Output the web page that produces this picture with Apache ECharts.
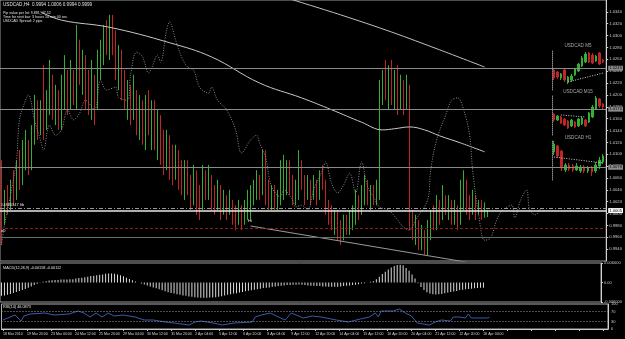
<!DOCTYPE html>
<html><head><meta charset="utf-8">
<script src="https://cdn.jsdelivr.net/npm/echarts/dist/echarts.min.js"></script>
<style>html,body{margin:0;padding:0;background:#000}#c{width:625px;height:339px}</style>
</head><body><div id="c"></div>
<script>
const categories = Array.from({length: 202}, (_, i) => i);
const tickLabels = ["18 Mar 2010","19 Mar 20:00","23 Mar 04:00","24 Mar 12:00","25 Mar 20:00","29 Mar 04:00","30 Mar 12:00","31 Mar 20:00","2 Apr 04:00","5 Apr 12:00","6 Apr 20:00","8 Apr 04:00","9 Apr 12:00","12 Apr 20:00","14 Apr 04:00","15 Apr 12:00","16 Apr 20:00","20 Apr 04:00","21 Apr 12:00","22 Apr 20:00","26 Apr 04:00"];

// [open, close, low, high]
const priceBars = [
[1.0065,0.9998,0.9947,1.0090],[0.9998,1.0023,0.9981,1.0040],[1.0023,1.0014,0.9998,1.0048],[1.0014,1.0048,1.0006,1.0057],[1.0048,1.0031,1.0014,1.0073],
[1.0031,1.0073,1.0023,1.0090],[1.0073,1.0057,1.0040,1.0107],[1.0057,1.0090,1.0048,1.0124],[1.0090,1.0107,1.0073,1.0141],[1.0107,1.0082,1.0065,1.0124],
[1.0082,1.0132,1.0073,1.0149],[1.0132,1.0158,1.0116,1.0200],[1.0158,1.0141,1.0124,1.0191],[1.0141,1.0175,1.0132,1.0191],[1.0175,1.0149,1.0124,1.0250],
[1.0149,1.0183,1.0141,1.0208],[1.0183,1.0200,1.0166,1.0259],[1.0200,1.0175,1.0158,1.0234],[1.0175,1.0191,1.0149,1.0217],[1.0191,1.0158,1.0141,1.0208],
[1.0158,1.0200,1.0141,1.0234],[1.0200,1.0217,1.0175,1.0267],[1.0217,1.0191,1.0166,1.0242],[1.0191,1.0225,1.0175,1.0259],[1.0225,1.0208,1.0183,1.0242],
[1.0208,1.0284,1.0175,1.0318],[1.0284,1.0242,1.0217,1.0293],[1.0242,1.0259,1.0200,1.0276],[1.0259,1.0225,1.0175,1.0267],[1.0225,1.0200,1.0166,1.0242],
[1.0200,1.0217,1.0158,1.0259],[1.0217,1.0191,1.0149,1.0234],[1.0191,1.0242,1.0175,1.0276],[1.0242,1.0276,1.0225,1.0293],[1.0276,1.0301,1.0250,1.0318],
[1.0301,1.0284,1.0267,1.0326],[1.0284,1.0318,1.0259,1.0335],[1.0318,1.0293,1.0267,1.0335],[1.0293,1.0250,1.0225,1.0309],[1.0250,1.0267,1.0208,1.0284],
[1.0267,1.0217,1.0191,1.0276],[1.0217,1.0191,1.0175,1.0242],[1.0191,1.0208,1.0158,1.0225],[1.0208,1.0175,1.0149,1.0217],[1.0175,1.0200,1.0158,1.0234],
[1.0200,1.0158,1.0132,1.0208],[1.0158,1.0183,1.0124,1.0200],[1.0183,1.0141,1.0116,1.0191],[1.0141,1.0175,1.0107,1.0200],[1.0175,1.0158,1.0132,1.0208],
[1.0158,1.0183,1.0107,1.0191],[1.0183,1.0132,1.0107,1.0191],[1.0132,1.0149,1.0090,1.0175],[1.0149,1.0116,1.0082,1.0166],[1.0116,1.0099,1.0065,1.0141],
[1.0099,1.0124,1.0073,1.0141],[1.0124,1.0090,1.0057,1.0132],[1.0090,1.0073,1.0048,1.0116],[1.0073,1.0099,1.0057,1.0116],[1.0099,1.0065,1.0040,1.0107],
[1.0065,1.0048,1.0031,1.0090],[1.0048,1.0073,1.0023,1.0090],[1.0073,1.0048,1.0031,1.0090],[1.0048,1.0031,1.0006,1.0065],[1.0031,1.0057,1.0014,1.0082],
[1.0057,1.0023,0.9998,1.0073],[1.0023,1.0014,0.9989,1.0048],[1.0014,1.0048,1.0006,1.0082],[1.0048,1.0040,1.0023,1.0073],[1.0040,1.0057,1.0023,1.0082],
[1.0057,1.0031,1.0006,1.0065],[1.0031,1.0023,0.9998,1.0048],[1.0023,1.0040,1.0006,1.0057],[1.0040,1.0014,0.9989,1.0048],[1.0014,1.0023,0.9998,1.0040],
[1.0023,1.0006,0.9989,1.0031],[1.0006,1.0014,0.9998,1.0040],[1.0014,0.9998,0.9981,1.0023],[0.9998,0.9989,0.9972,1.0014],[0.9989,1.0006,0.9981,1.0023],
[1.0006,0.9989,0.9972,1.0014],[0.9989,0.9998,0.9981,1.0023],[0.9998,1.0014,0.9989,1.0040],[1.0014,1.0023,0.9989,1.0048],[1.0023,1.0031,1.0014,1.0057],
[1.0031,1.0048,1.0023,1.0073],[1.0048,1.0040,1.0023,1.0065],[1.0040,1.0082,1.0031,1.0107],[1.0082,1.0040,1.0014,1.0107],[1.0040,1.0023,1.0006,1.0057],
[1.0023,1.0031,1.0006,1.0048],[1.0031,1.0014,1.0006,1.0048],[1.0014,1.0023,1.0006,1.0040],[1.0023,1.0065,1.0014,1.0090],[1.0065,1.0073,1.0023,1.0099],
[1.0073,1.0082,1.0031,1.0090],[1.0082,1.0048,1.0031,1.0090],[1.0048,1.0031,1.0014,1.0065],[1.0031,1.0040,1.0014,1.0057],[1.0040,1.0082,1.0023,1.0107],
[1.0082,1.0057,1.0040,1.0090],[1.0057,1.0031,1.0014,1.0065],[1.0031,1.0048,1.0023,1.0065],[1.0048,1.0031,1.0014,1.0057],[1.0031,1.0048,1.0023,1.0065],
[1.0048,1.0031,1.0014,1.0057],[1.0031,1.0065,1.0023,1.0073],[1.0065,1.0048,1.0040,1.0082],[1.0048,1.0014,0.9998,1.0057],[1.0014,0.9998,0.9981,1.0023],
[0.9998,0.9981,0.9972,1.0014],[0.9981,0.9998,0.9964,1.0006],[0.9998,0.9972,0.9955,1.0006],[0.9972,0.9964,0.9947,0.9989],[0.9964,0.9981,0.9955,0.9998],
[0.9981,0.9972,0.9964,0.9998],[0.9972,0.9989,0.9964,1.0006],[0.9989,0.9998,0.9972,1.0014],[0.9998,1.0023,0.9981,1.0040],[1.0023,1.0006,0.9989,1.0031],
[1.0006,1.0031,0.9998,1.0048],[1.0031,1.0040,1.0014,1.0065],[1.0040,1.0023,1.0014,1.0057],[1.0023,1.0031,1.0006,1.0048],[1.0031,1.0023,1.0014,1.0048],
[1.0023,1.0040,1.0014,1.0057],[1.0040,1.0200,1.0023,1.0225],[1.0200,1.0225,1.0183,1.0242],[1.0225,1.0208,1.0191,1.0259],[1.0208,1.0234,1.0175,1.0250],
[1.0234,1.0200,1.0183,1.0259],[1.0200,1.0217,1.0175,1.0242],[1.0217,1.0191,1.0166,1.0250],[1.0191,1.0208,1.0175,1.0234],[1.0208,1.0183,1.0166,1.0225],
[1.0183,1.0200,1.0175,1.0234],[1.0200,0.9998,0.9972,1.0217],[0.9998,0.9972,0.9955,1.0006],[0.9972,0.9981,0.9947,0.9998],[0.9981,0.9955,0.9938,0.9989],
[0.9955,0.9964,0.9938,0.9981],[0.9964,0.9947,0.9930,0.9972],[0.9947,0.9972,0.9930,0.9989],[0.9972,0.9998,0.9955,1.0006],[0.9998,0.9989,0.9972,1.0014],
[0.9989,1.0014,0.9972,1.0031],[1.0014,0.9998,0.9981,1.0023],[0.9998,1.0023,0.9989,1.0048],[1.0023,1.0006,0.9998,1.0031],[1.0006,1.0014,0.9989,1.0031],
[1.0014,0.9998,0.9981,1.0023],[0.9998,1.0006,0.9981,1.0023],[1.0006,0.9989,0.9972,1.0014],[0.9989,1.0023,0.9981,1.0057],[1.0023,1.0048,1.0006,1.0073],
[1.0048,1.0014,0.9998,1.0057],[1.0014,1.0006,0.9989,1.0031],[1.0006,1.0023,0.9998,1.0040],[1.0023,1.0006,0.9989,1.0031],[1.0006,1.0014,0.9998,1.0023],
[1.0014,1.0003,0.9989,1.0023],[1.0003,1.0009,0.9993,1.0019],[0.9994,0.9999,0.9994,1.0006]
];

const maSlow = [[13,1.0340],[20,1.0326],[36,1.0314],[56,1.0288],[70,1.0264],[86,1.0220],[100,1.0195],[110,1.0175],[120,1.0154],[127,1.0141],[131,1.0143],[136,1.0146],[141,1.0141],[146,1.0131],[153,1.0119],[161,1.0104]];
const maSlower = [[94,1.0365],[113,1.0335],[130,1.0306],[146,1.0276],[161,1.0247]];
const trendLine = [[83,0.9979],[155,0.9918]];
const dottedLine = [[0,0.9947],[1,0.9981],[3,1.0031],[5,1.0090],[6,1.0158],[8,1.0191],[9,1.0200],[11,1.0158],[13,1.0124],[14,1.0107],[16,1.0149],[18,1.0132],[20,1.0141],[22,1.0175],[24,1.0158],[26,1.0169],[28,1.0191],[31,1.0175],[33,1.0225],[35,1.0208],[38,1.0213],[39,1.0196],[42,1.0191],[43,1.0234],[45,1.0272],[47,1.0264],[49,1.0237],[50,1.0245],[52,1.0267],[53,1.0255],[55,1.0309],[56,1.0323],[58,1.0293],[60,1.0264],[62,1.0247],[64,1.0242],[66,1.0213],[69,1.0203],[70,1.0213],[72,1.0191],[75,1.0175],[78,1.0141],[80,1.0102],[83,1.0124],[85,1.0132],[86,1.0119],[88,1.0095],[90,1.0045],[93,1.0028],[94,1.0040],[97,1.0023],[98,1.0011],[100,1.0014],[102,1.0006],[104,1.0040],[107,1.0073],[108,1.0087],[110,1.0051],[112,1.0035],[114,1.0048],[116,1.0068],[118,1.0035],[120,1.0087],[122,1.0045],[124,1.0028],[126,1.0011],[129,1.0006],[132,0.9989],[134,0.9977],[136,0.9972],[138,0.9989],[142,1.0023],[143,1.0073],[145,1.0124],[148,1.0166],[150,1.0191],[152,1.0195],[154,1.0175],[156,1.0132],[157,1.0073],[159,0.9998],[161,0.9955],[163,0.9959],[165,0.9989],[167,1.0006],[170,1.0014],[171,0.9993],[173,1.0023],[175,1.0040],[176,1.0006],[178,0.9998],[180,1.0009],[181,1.0003]];

const macdHist = [
-0.0041,-0.0040,-0.0038,-0.0035,-0.0032,-0.0029,-0.0026,-0.0023,-0.0020,-0.0016,
-0.0012,-0.0008,-0.0004,-0.0001,0.0002,0.0004,0.0006,0.0007,0.0008,0.0008,
0.0009,0.0009,0.0009,0.0010,0.0010,0.0012,0.0014,0.0015,0.0016,0.0018,
0.0020,0.0021,0.0022,0.0024,0.0025,0.0027,0.0028,0.0028,0.0027,0.0025,
0.0022,0.0019,0.0015,0.0011,0.0007,0.0003,0.0000,-0.0003,-0.0006,-0.0009,
-0.0012,-0.0015,-0.0018,-0.0021,-0.0024,-0.0027,-0.0030,-0.0032,-0.0034,-0.0036,
-0.0038,-0.0040,-0.0041,-0.0043,-0.0044,-0.0045,-0.0046,-0.0047,-0.0047,-0.0047,
-0.0046,-0.0046,-0.0045,-0.0044,-0.0042,-0.0040,-0.0038,-0.0036,-0.0034,-0.0033,
-0.0031,-0.0029,-0.0027,-0.0025,-0.0024,-0.0022,-0.0021,-0.0019,-0.0017,-0.0016,
-0.0015,-0.0013,-0.0012,-0.0011,-0.0010,-0.0009,-0.0008,-0.0008,-0.0007,-0.0007,
-0.0006,-0.0007,-0.0008,-0.0009,-0.0010,-0.0010,-0.0011,-0.0011,-0.0012,-0.0012,
-0.0013,-0.0013,-0.0013,-0.0013,-0.0012,-0.0011,-0.0010,-0.0009,-0.0008,-0.0007,
-0.0005,-0.0003,-0.0002,0.0000,0.0002,0.0004,0.0010,0.0018,0.0026,0.0033,
0.0040,0.0046,0.0051,0.0054,0.0055,0.0053,0.0045,0.0036,0.0025,0.0012,
-0.0002,-0.0014,-0.0023,-0.0030,-0.0034,-0.0036,-0.0037,-0.0036,-0.0035,-0.0033,
-0.0031,-0.0029,-0.0028,-0.0026,-0.0023,-0.0022,-0.0021,-0.0020,-0.0019,-0.0018,
-0.0017,-0.0016,-0.0016
];

const rsiPoints = [[0,36],[4,56],[6,32],[7,52],[9,60],[14,64],[17,56],[22,60],[25,72],[27,64],[29,48],[31,64],[33,48],[35,64],[37,52],[40,56],[44,48],[47,36],[50,36],[54,28],[57,24],[62,16],[64,28],[66,32],[70,24],[73,16],[77,24],[83,28],[84,48],[86,56],[89,64],[91,52],[94,36],[96,64],[100,44],[103,52],[106,48],[111,36],[115,28],[119,40],[122,48],[124,64],[125,48],[126,72],[130,72],[132,80],[134,64],[136,52],[138,24],[140,20],[142,16],[144,28],[146,36],[149,32],[150,48],[152,48],[154,44],[155,60],[156,44],[158,44],[161,44],[162,46.09]];

const m5Bars = [[1.0000,0.9996,0.9995,1.0001],[0.9999,0.99965,0.99955,0.99995],[0.9996,0.9998,0.9995,0.99985],[1.0000,0.9995,0.9994,1.00005],[0.9994,0.99965,0.9993,0.9997],[0.9995,0.9997,0.9994,0.9998],[0.99975,1.00005,0.9997,1.0001],[0.99995,1.0003,0.9999,1.00035],[1.0002,1.0006,1.00015,1.0007],[1.0004,1.0008,1.00035,1.0009],[1.00085,1.0004,1.00035,1.0009],[1.00075,1.00035,1.0003,1.00085],[1.00045,1.0007,1.0004,1.00075],[1.00085,1.0003,1.00025,1.0009],[1.0005,1.0004,1.00035,1.00055]];
const m5Trend = [[4,0.9994],[14,0.99985]];
const m15Bars = [[1.00205,1.00175,1.00165,1.0021],[1.00175,1.00195,1.0017,1.0020],[1.0019,1.0016,1.00155,1.00195],[1.0018,1.0015,1.00145,1.00185],[1.0017,1.00135,1.0013,1.00175],[1.00145,1.00175,1.0014,1.0018],[1.00165,1.0014,1.00135,1.0017],[1.00145,1.0018,1.0014,1.00185],[1.00155,1.00185,1.0015,1.0019],[1.00175,1.00145,1.0014,1.0018],[1.00165,1.0021,1.0016,1.00215],[1.0019,1.0024,1.00185,1.0025],[1.0023,1.00285,1.00225,1.00295],[1.0028,1.00245,1.00235,1.00285],[1.00255,1.0024,1.0023,1.0026]];
const m15Trend = [[2,1.0020],[9,1.0019]];
const h1Bars = [[1.0044,1.0048,1.00425,1.00495],[1.0047,1.0042,1.0041,1.00475],[1.00445,1.0036,1.00345,1.0045],[1.0035,1.00375,1.0034,1.00385],[1.00375,1.00355,1.00345,1.00385],[1.0037,1.0035,1.0034,1.0038],[1.0035,1.0037,1.00345,1.00385],[1.00345,1.00365,1.00335,1.00375],[1.00365,1.00345,1.00335,1.00375],[1.00345,1.0036,1.00335,1.0037],[1.0036,1.0034,1.0032,1.0037],[1.00345,1.00375,1.00335,1.0039],[1.0037,1.0040,1.00355,1.00415],[1.0039,1.0042,1.0038,1.0043]];
const h1Trend = [[0,1.00415],[13,1.00385]];

const levelM5 = 1.0245, levelM15 = 1.0176, levelH1 = 1.0078, levelFib = 1.0009, levelBid = 1.0005, levelRed = 0.9976, levelLow = 0.9960;

const FONT = 'Liberation Sans, Arial, sans-serif';
const UP = '#33b033', DOWN = '#c02424';

function boxLabel(bg, fg) {
  return {show:true, position:'end', distance:2, formatter:p=>Number(p.value).toFixed(4), backgroundColor:bg, color:fg, fontSize:4.2, fontFamily:FONT, padding:[1,1,0,1]};
}
function startLabel(text, pos) {
  return {show:true, position:pos, distance:1, formatter:text, color:'#e0e0e0', fontSize:4, fontFamily:FONT};
}

const insetGrids = [
  {left:552, top:50, width:53, height:40},
  {left:552, top:95, width:53, height:40},
  {left:552, top:140, width:53, height:40}
];
const insetRanges = [[0.9990,1.0010],[1.0010,1.0030],[1.0030,1.0050]];
const insetBars = [m5Bars, m15Bars, h1Bars];
const insetTrends = [m5Trend, m15Trend, h1Trend];

const grids = [
  {left:0, top:0, width:608, height:261, show:true, borderColor:'#9a9a9a', borderWidth:1},
  {left:0, top:263, width:608, height:39, show:true, borderColor:'#9a9a9a', borderWidth:1},
  {left:0, top:304, width:608, height:25, show:true, borderColor:'#b0b0b0', borderWidth:1}
].concat(insetGrids);

const xAxes = [
  {type:'category', gridIndex:0, data:categories, boundaryGap:true, show:false},
  {type:'category', gridIndex:1, data:categories, boundaryGap:true, show:false},
  {type:'category', gridIndex:2, data:categories, boundaryGap:true,
   axisLine:{show:true, lineStyle:{color:'#c8c8c8'}},
   axisTick:{show:true, interval:7, alignWithLabel:true, length:2, lineStyle:{color:'#c8c8c8'}},
   axisLabel:{interval:7, align:'left', margin:3, fontSize:3.5, color:'#d8d8d8', fontFamily:FONT,
     formatter:(v, i)=> (i % 8 === 0 && tickLabels[i/8]) ? tickLabels[i/8] : ''}}
].concat(insetBars.map((b, k)=>({type:'category', gridIndex:3+k, data:b.map((_, i)=>i), boundaryGap:true, show:false})));

const yAxes = [
  {type:'value', gridIndex:0, position:'right', min:0.992, max:1.036, interval:0.002,
   axisLine:{show:true, lineStyle:{color:'#d0d0d0'}}, axisTick:{show:true, length:2, lineStyle:{color:'#d0d0d0'}},
   splitLine:{show:false},
   axisLabel:{showMinLabel:false, showMaxLabel:false, margin:3, fontSize:4.2, color:'#c8c8c8', fontFamily:FONT, formatter:v=>v.toFixed(4)}},
  {type:'value', gridIndex:1, position:'right', min:-0.006, max:0.006, interval:0.006,
   axisLine:{show:true, lineStyle:{color:'#d0d0d0'}}, axisTick:{show:true, length:2, lineStyle:{color:'#d0d0d0'}},
   splitLine:{show:false},
   axisLabel:{margin:3, fontSize:4, color:'#c8c8c8', fontFamily:FONT, formatter:v=> Math.abs(v) < 1e-9 ? '0.00' : v.toFixed(6)}},
  {type:'value', gridIndex:2, position:'right', min:0, max:100, interval:10,
   axisLine:{show:true, lineStyle:{color:'#d0d0d0'}}, axisTick:{show:false},
   splitLine:{show:false},
   axisLabel:{margin:3, fontSize:4, color:'#c8c8c8', fontFamily:FONT, formatter:v=> [0,30,70,100].includes(Math.round(v)) ? String(Math.round(v)) : ''}}
].concat(insetRanges.map((r, k)=>({type:'value', gridIndex:3+k, position:'left', min:r[0], max:r[1],
   axisLine:{show:true, lineStyle:{color:'#8a8a8a', type:'dotted'}}, axisTick:{show:false}, axisLabel:{show:false}, splitLine:{show:false}})));

const series = [
  {type:'candlestick', xAxisIndex:0, yAxisIndex:0, data:priceBars, barWidth:0.6,
   itemStyle:{color:UP, color0:DOWN, borderColor:UP, borderColor0:DOWN, borderWidth:1}},
  {type:'line', xAxisIndex:0, yAxisIndex:0, data:maSlow, smooth:0.4, showSymbol:false, lineStyle:{color:'#c8c8c8', width:1}, silent:true,
   markLine:{symbol:'none', silent:true, animation:false, precision:4, data:[
     {yAxis:levelM5, lineStyle:{color:'#8a8a8a', type:'solid', width:1}, label:boxLabel('#8a8a8a','#111')},
     {yAxis:levelM15, lineStyle:{color:'#8a8a8a', type:'solid', width:1}, label:boxLabel('#8a8a8a','#111')},
     {yAxis:levelH1, lineStyle:{color:'#8a8a8a', type:'solid', width:1}, label:boxLabel('#8a8a8a','#111')},
     {yAxis:levelFib, lineStyle:{color:'#9a9a9a', type:[4,2,1,2], width:1}, label:startLabel('#4880347 fib','insideStartTop')},
     {yAxis:levelBid, lineStyle:{color:'#e8e8e8', type:'solid', width:1.5}, label:boxLabel('#ffffff','#000')},
     {yAxis:levelRed, lineStyle:{color:'#8e1c1c', type:[3,2], width:1}, label:startLabel('o0','insideStartBottom')},
     {yAxis:levelLow, lineStyle:{color:'#6a6a6a', type:'solid', width:1}, label:{show:false}}
   ]}},
  {type:'line', xAxisIndex:0, yAxisIndex:0, data:maSlower, smooth:0.3, showSymbol:false, lineStyle:{color:'#c0c0c0', width:1}, silent:true, clip:true,
   markLine:{symbol:'none', silent:true, animation:false, precision:4, lineStyle:{opacity:0}, data:[
     {yAxis:levelM5, label:startLabel('0','insideStartTop')}
   ]}},
  {type:'line', xAxisIndex:0, yAxisIndex:0, data:trendLine, showSymbol:false, lineStyle:{color:'#9a9a9a', width:1}, silent:true, clip:true},
  {type:'line', xAxisIndex:0, yAxisIndex:0, data:dottedLine, smooth:0.35, showSymbol:false, lineStyle:{color:'#8c8c8c', width:1, type:[1,1.5]}, silent:true},
  {type:'bar', xAxisIndex:1, yAxisIndex:1, data:macdHist, barWidth:1, itemStyle:{color:'#dcdcdc'}, silent:true},
  {type:'line', xAxisIndex:2, yAxisIndex:2, data:rsiPoints, showSymbol:false, lineStyle:{color:'#3a5cab', width:1}, silent:true,
   markLine:{symbol:'none', silent:true, animation:false, label:{show:false}, lineStyle:{color:'#9a9a9a', type:[1,2], width:1},
     data:[{yAxis:30},{yAxis:70}]}}
];
insetBars.forEach((b, k)=>{
  series.push({type:'candlestick', xAxisIndex:3+k, yAxisIndex:3+k, data:b, barWidth:2,
    itemStyle:{color:UP, color0:DOWN, borderColor:UP, borderColor0:DOWN, borderWidth:1}, silent:true});
  series.push({type:'line', xAxisIndex:3+k, yAxisIndex:3+k, data:insetTrends[k], showSymbol:false,
    lineStyle:{color:'#d0d0d0', width:1, type:[1,1.5]}, silent:true});
});

function txt(x, y, s, size, color, align) {
  return {type:'text', x:x, y:y, silent:true,
    style:{text:s, fill:color || '#e0e0e0', font:(size||4)+'px ' + FONT, textAlign:align||'left', textVerticalAlign:'top'}};
}
const graphics = [
  txt(3, 2, 'USDCAD,H4  0.9994 1.0006 0.9994 0.9999', 4.6),
  txt(3, 11, 'Pip value per lot: 9.881_47.52', 3.6),
  txt(3, 15, 'Time for next bar: 3 hours 14 min 00 sec', 3.6),
  txt(3, 19, 'USDCAD Spread: 2 pips', 3.6),
  txt(578, 43, 'USDCAD M5', 4.6, '#a8a8a8', 'center'),
  txt(578, 89, 'USDCAD M15', 4.6, '#a8a8a8', 'center'),
  txt(578, 135, 'USDCAD H1', 4.6, '#a8a8a8', 'center'),
  txt(248, 219, 'Hi', 4.2, '#f0f0f0'),
  txt(3, 266, 'MACD(12,26,9) -0.00158 -0.00112', 3.8),
  txt(3, 305, 'RSI(14) 46.0873', 3.8)
];

const option = {
  backgroundColor:'#000000',
  animation:false,
  grid:grids,
  xAxis:xAxes,
  yAxis:yAxes,
  series:series,
  graphic:graphics
};
const chart = echarts.init(document.getElementById('c'), null, {renderer:'canvas'});
chart.setOption(option);
</script></body></html>
